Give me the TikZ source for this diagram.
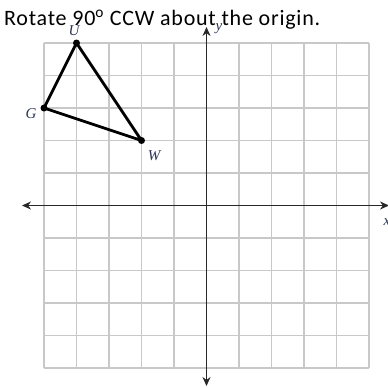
\documentclass[tikz,border=0pt]{standalone}
\usepackage{fontspec}
\setmainfont{Carlito}
\newfontfamily\titlefont[LetterSpace=3.5]{Carlito}
\newfontfamily\lblfont{Liberation Serif}
\usetikzlibrary{arrows.meta}
\definecolor{gridgray}{RGB}{200,200,200}
\definecolor{axisgray}{RGB}{40,40,40}
\definecolor{lblcol}{RGB}{45,55,85}
\tikzset{
  gridline/.style={draw=gridgray, line width=1.4pt},
  axisline/.style={draw=axisgray, line width=1.4pt, {Stealth[length=9pt,width=8pt]}-{Stealth[length=9pt,width=8pt]}},
  tri/.style={draw=black, line width=2.8pt, line join=round},
  vdot/.style={circle, fill=black, inner sep=0pt, minimum size=7pt},
  lbl/.style={font=\lblfont\itshape\fontsize{15}{15}\selectfont, text=lblcol, inner sep=0pt},
}
\begin{document}
\begin{tikzpicture}[x=1pt,y=-1pt]
\useasboundingbox (0,0) rectangle (388,388);
\fill[white] (0,0) rectangle (388,388);
% grid
\foreach \i in {0,...,10} {
  \draw[gridline] ({44+32.5*\i},43) -- ({44+32.5*\i},368);
  \draw[gridline] (44,{43+32.5*\i}) -- (369,{43+32.5*\i});
}
% axes
\coordinate (xl) at (22,205.5);
\coordinate (xr) at (389,205.5);
\coordinate (yt) at (206.5,27);
\coordinate (yb) at (206.5,386);
\draw[axisline] (xl) -- (xr);
\draw[axisline] (yb) -- (yt);
\node[lbl] (xlab) at (387,222) {x};
\node[lbl] (ylab) at (219,29) {y};
% triangle
\node[vdot] (U) at (76.5,43) {};
\node[vdot] (G) at (44,108) {};
\node[vdot] (W) at (141.5,140.5) {};
\draw[tri] (U.center) -- (G.center) -- (W.center) -- cycle;
\node[lbl] (Ul) at (74,31) {U};
\node[lbl] (Gl) at (31,114) {G};
\node[lbl] (Wl) at (154,156) {W};
% title
\node[anchor=base west, inner sep=0pt, font=\titlefont\fontsize{22}{22}\selectfont] (title) at (4,25) {Rotate 90\textsuperscript{o} CCW about the origin.};
\end{tikzpicture}
\end{document}
